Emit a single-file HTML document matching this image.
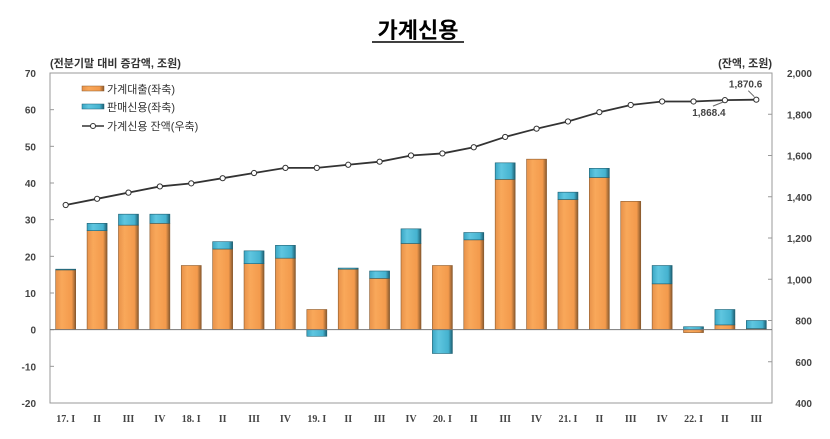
<!DOCTYPE html>
<html><head><meta charset="utf-8"><style>
body{margin:0;background:#fff;}
svg{display:block;font-family:"Liberation Sans","Noto Sans CJK KR",sans-serif;}
</style></head><body>
<svg id="c" width="830" height="439">
<defs>
<linearGradient id="og" x1="0" x2="1"><stop offset="0" stop-color="#e8924a"/><stop offset="0.3" stop-color="#f9a85a"/><stop offset="0.8" stop-color="#f39a4c"/><stop offset="1" stop-color="#8a5a2e"/></linearGradient>
<linearGradient id="bg" x1="0" x2="1"><stop offset="0" stop-color="#3aa6c4"/><stop offset="0.3" stop-color="#5fc6e0"/><stop offset="0.8" stop-color="#45b2cf"/><stop offset="1" stop-color="#1d5f72"/></linearGradient>
</defs>
<text x="418" y="38" text-anchor="middle" font-size="22" font-weight="bold">가계신용</text>
<line x1="372" y1="42" x2="464" y2="42" stroke="#000" stroke-width="1.5"/>
<text x="50" y="67" font-size="11" font-weight="bold" fill="#333">(전분기말 대비 증감액, 조원)</text>
<text x="772" y="67" font-size="11" font-weight="bold" fill="#333" text-anchor="end">(잔액, 조원)</text>
<rect x="50" y="73" width="722" height="330" fill="none" stroke="#999"/>
<g id="g"></g>
<g>
<rect x="82" y="86" width="22" height="5" fill="url(#og)" stroke="#8a5a2e" stroke-width="0.5"/>
<text x="107" y="93" font-size="11" fill="#333">가계대출(좌축)</text>
<rect x="82" y="104" width="22" height="5" fill="url(#bg)" stroke="#1d5f72" stroke-width="0.5"/>
<text x="107" y="111" font-size="11" fill="#333">판매신용(좌축)</text>
<line x1="82" y1="126" x2="104" y2="126" stroke="#333" stroke-width="1.5"/>
<circle cx="93" cy="126" r="2.5" fill="#fff" stroke="#333"/>
<text x="107" y="130" font-size="11" fill="#333">가계신용 잔액(우축)</text>
</g>
</svg>
<script>
const categories=["17. I","II","III","IV","18. I","II","III","IV","19. I","II","III","IV","20. I","II","III","IV","21. I","II","III","IV","22. I","II","III"];
const loans=[16.3,27,28.5,29,17.5,22,18,19.5,5.5,16.5,14,23.5,17.5,24.5,41,46.5,35.5,41.5,35,12.5,-0.8,1.3,0.3];
const sales=[0.2,2,3,2.5,0,2,3.5,3.5,-1.8,0.3,2,4,-6.5,2,4.5,0,2,2.5,0,5,0.8,4.2,2.2];
const balance=[1360,1390,1420,1450,1465,1490,1515,1540,1540,1555,1570,1600,1610,1640,1690,1730,1765,1810,1845,1862,1862,1868.4,1870.6];
const leftTicks=[70,60,50,40,30,20,10,0,-10,-20];
const rightTicks=[2000,1800,1600,1400,1200,1000,800,600,400];
const X0=50,X1=772,Y0=73,Y1=403;
const yL=v=>Y0+(70-v)*(Y1-Y0)/90;
const yR=v=>Y0+(2000-v)*(Y1-Y0)/1600;
const bw=(X1-X0)/categories.length;
const xC=i=>X0+bw*(i+0.5);
const g=document.getElementById('g');
const NS='http://www.w3.org/2000/svg';
function mk(t,a){const e=document.createElementNS(NS,t);for(const k in a)e.setAttribute(k,a[k]);g.appendChild(e);return e;}
leftTicks.forEach(v=>{const t=mk('text',{x:36,y:yL(v)+4,'font-size':10,'font-weight':'bold',fill:'#444','text-anchor':'end'});t.textContent=v;


mk('line',{x1:X0,x2:X0+4,y1:yL(v),y2:yL(v),stroke:'#999'});});
rightTicks.forEach(v=>{const t=mk('text',{x:812,y:yR(v)+4,'font-size':10,'font-weight':'bold',fill:'#444','text-anchor':'end'});t.textContent=v.toLocaleString('en-US');


mk('line',{x1:X1-4,x2:X1,y1:yR(v),y2:yR(v),stroke:'#999'});});
categories.forEach((c,i)=>{const t=mk('text',{x:xC(i),y:422,'font-size':10,'font-weight':'bold',fill:'#444','text-anchor':'middle','font-family':'Liberation Serif, serif'});t.textContent=c;

});
const W=20;
categories.forEach((c,i)=>{
 const l=loans[i],s=sales[i];let pos=0,neg=0;
 function seg(v,fill,stroke,name){let a,b;if(v>=0){a=pos;b=pos+v;pos=b;}else{a=neg;b=neg+v;neg=b;}
  const y=Math.min(yL(a),yL(b)),h=Math.abs(yL(a)-yL(b));
  const r=mk('rect',{x:xC(i)-W/2,y:y,width:W,height:h,fill:fill,stroke:stroke,'stroke-width':0.6});
  
  }
 seg(l,'url(#og)','#8a5a2e','loan-bar');
 seg(s,'url(#bg)','#1d5f72','sales-credit-bar');
});
mk('line',{x1:X0,x2:X1,y1:yL(0),y2:yL(0),stroke:'#777'});
const pl=mk('polyline',{points:balance.map((v,i)=>xC(i)+','+yR(v)).join(' '),fill:'none',stroke:'#333','stroke-width':1.8});


balance.forEach((v,i)=>{const p=mk('circle',{cx:xC(i),cy:yR(v),r:2.6,fill:'#fff',stroke:'#333','stroke-width':1});

});
const n=balance.length;
const a1=mk('text',{x:xC(n-1)+6,y:yR(balance[n-1])-12,'font-size':10,'font-weight':'bold',fill:'#444','text-anchor':'end'});a1.textContent=balance[n-1].toLocaleString('en-US',{minimumFractionDigits:1});


mk('line',{x1:xC(n-1)-8,y1:yR(balance[n-1])-9,x2:xC(n-1)-2,y2:yR(balance[n-1])-3,stroke:'#666'});
const a2=mk('text',{x:xC(n-2)-16,y:yR(balance[n-2])+16,'font-size':10,'font-weight':'bold',fill:'#444','text-anchor':'middle'});a2.textContent=balance[n-2].toLocaleString('en-US',{minimumFractionDigits:1});


mk('line',{x1:xC(n-2)-12,y1:yR(balance[n-2])+6,x2:xC(n-2)-2,y2:yR(balance[n-2])+2,stroke:'#666'});
</script>
</body></html>
